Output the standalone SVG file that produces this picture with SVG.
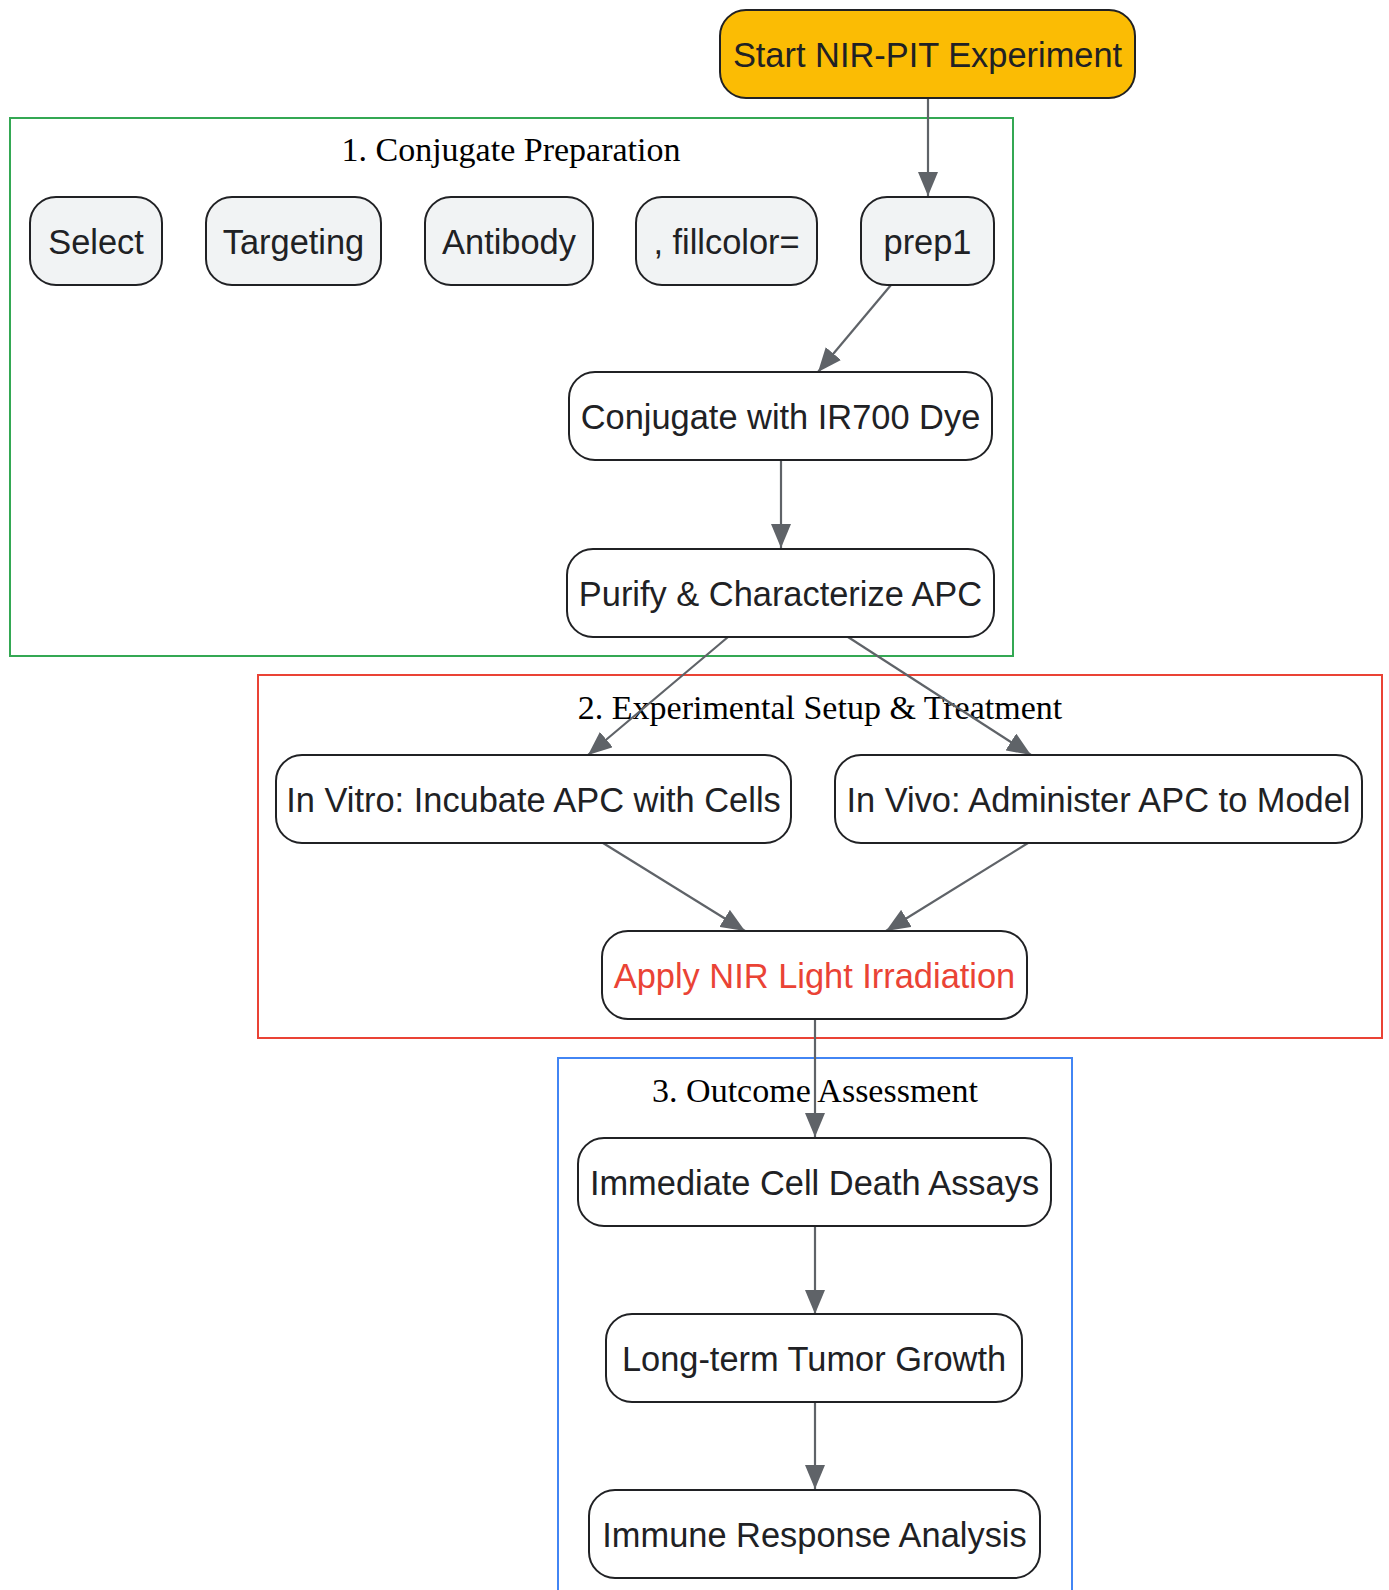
<svg xmlns="http://www.w3.org/2000/svg" width="1389" height="1590" viewBox="0 0 1389 1590">
<defs>
<style>
.node rect{fill:#ffffff;stroke:#202124;stroke-width:2}
.node.gray rect{fill:#f1f3f4}
.node.start rect{fill:#fbbc04}
.node text{font-family:"Liberation Sans",Arial,sans-serif;font-size:34.4px;fill:#202124;text-anchor:middle}
.node.red text{fill:#ea4335}
.cluster rect{fill:none;stroke-width:2}
.cluster text{font-family:"Liberation Serif","Times New Roman",serif;font-size:34px;fill:#000;text-anchor:middle}
.edge{stroke:#5f6368;stroke-width:2.2;fill:none;marker-end:url(#arr)}
</style>
<marker id="arr" viewBox="0 0 24 20" refX="24" refY="10" markerWidth="24" markerHeight="20" markerUnits="userSpaceOnUse" orient="auto">
<path d="M0,0 L24,10 L0,20 Z" fill="#5f6368"/>
</marker>
</defs>
<rect width="1389" height="1590" fill="#ffffff"/>
<g id="clusters">
<g id="cluster1" class="cluster"><rect x="10" y="118" width="1003" height="538" stroke="#34a853"/><text x="511" y="161">1. Conjugate Preparation</text></g>
<g id="cluster2" class="cluster"><rect x="258" y="675" width="1124" height="363" stroke="#ea4335"/><text x="820" y="719">2. Experimental Setup &amp; Treatment</text></g>
<g id="cluster3" class="cluster"><rect x="558" y="1058" width="514" height="560" stroke="#4285f4"/><text x="815" y="1102">3. Outcome Assessment</text></g>
</g>
<g id="connectors">
<path class="edge" d="M928,98 L928,196"/>
<path class="edge" d="M891,285 L818,372"/>
<path class="edge" d="M781,460 L781,548"/>
<path class="edge" d="M728,637 L588,755"/>
<path class="edge" d="M848,637 L1031,755"/>
<path class="edge" d="M603,843 L745,931"/>
<path class="edge" d="M1028,843 L886,931"/>
<path class="edge" d="M815,1019 L815,1137"/>
<path class="edge" d="M815,1226 L815,1314"/>
<path class="edge" d="M815,1401 L815,1489"/>
</g>
<g id="start" class="node start"><rect x="720" y="10" width="415" height="88" rx="26"/><text x="927.5" y="67">Start NIR-PIT Experiment</text></g>
<g id="select" class="node gray"><rect x="30" y="197" width="132" height="88" rx="26"/><text x="96" y="254">Select</text></g>
<g id="targeting" class="node gray"><rect x="206" y="197" width="175" height="88" rx="26"/><text x="293.5" y="254">Targeting</text></g>
<g id="antibody" class="node gray"><rect x="425" y="197" width="168" height="88" rx="26"/><text x="509" y="254">Antibody</text></g>
<g id="fillcolor" class="node gray"><rect x="636" y="197" width="181" height="88" rx="26"/><text x="726.5" y="254">, fillcolor=</text></g>
<g id="prep1" class="node gray"><rect x="861" y="197" width="133" height="88" rx="26"/><text x="927.5" y="254">prep1</text></g>
<g id="conjugate" class="node"><rect x="569" y="372" width="423" height="88" rx="26"/><text x="780.5" y="429">Conjugate with IR700 Dye</text></g>
<g id="purify" class="node"><rect x="567" y="549" width="427" height="88" rx="26"/><text x="780.5" y="606">Purify &amp; Characterize APC</text></g>
<g id="invitro" class="node"><rect x="276" y="755" width="515" height="88" rx="26"/><text x="533.5" y="812">In Vitro: Incubate APC with Cells</text></g>
<g id="invivo" class="node"><rect x="835" y="755" width="527" height="88" rx="26"/><text x="1098.5" y="812">In Vivo: Administer APC to Model</text></g>
<g id="apply" class="node red"><rect x="602" y="931" width="425" height="88" rx="26"/><text x="814.5" y="988">Apply NIR Light Irradiation</text></g>
<g id="immediate" class="node"><rect x="578" y="1138" width="473" height="88" rx="26"/><text x="814.5" y="1195">Immediate Cell Death Assays</text></g>
<g id="longterm" class="node"><rect x="606" y="1314" width="416" height="88" rx="26"/><text x="814" y="1371">Long-term Tumor Growth</text></g>
<g id="immune" class="node"><rect x="589" y="1490" width="451" height="88" rx="26"/><text x="814.5" y="1547">Immune Response Analysis</text></g>
</svg>
